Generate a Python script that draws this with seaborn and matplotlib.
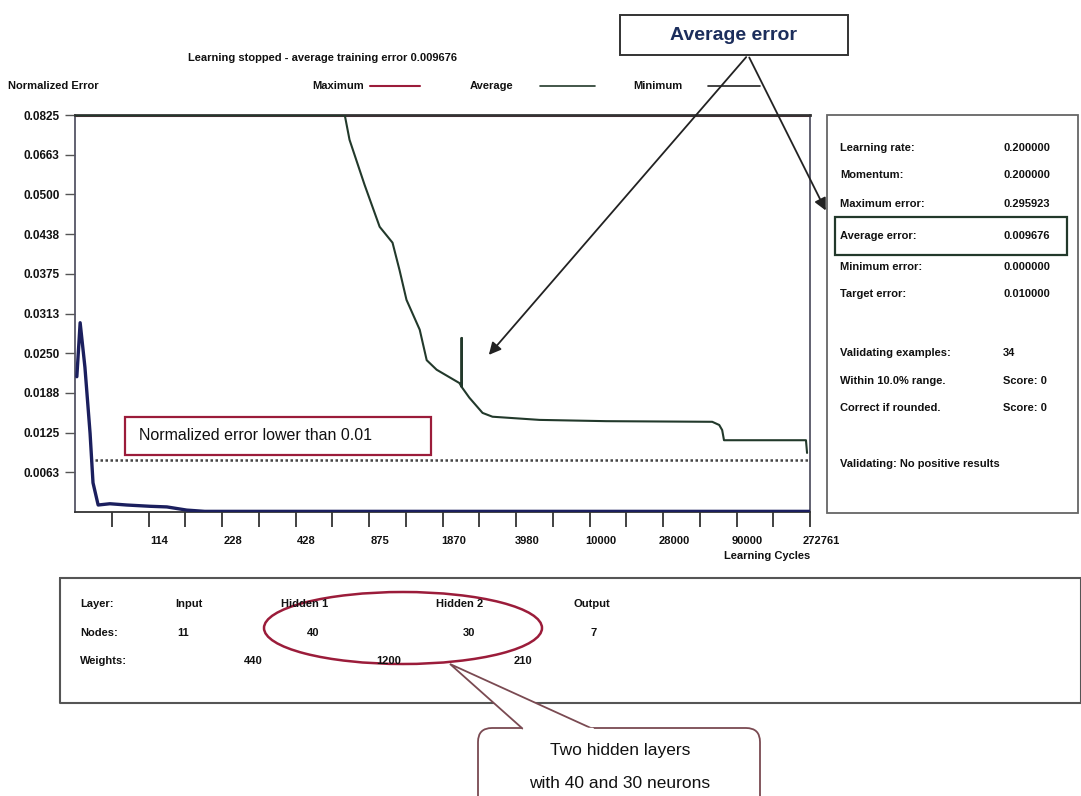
import numpy as np
import pandas as pd
import matplotlib
matplotlib.use('Agg')
import matplotlib.pyplot as plt
from matplotlib.patches import Rectangle, Ellipse, FancyBboxPatch, Polygon
import seaborn as sns

sns.set_theme(style='white')
plt.rcParams['font.family'] = ['Liberation Sans', 'DejaVu Sans']

# --- data ---
# x positions are tick-slot units (20 slots, non-linear cycle scale)
avg_x = [0, 7.2, 7.34, 7.47, 7.88, 8.29, 8.64, 8.83, 9.02, 9.38, 9.57, 9.84, 10.46,
         10.52, 10.52, 10.52, 10.73, 11.09, 11.36, 12.64, 14.46, 17.34, 17.53, 17.61,
         17.66, 19.89, 19.92]
avg_y = [0.0625, 0.0625, 0.0625, 0.0586, 0.0515, 0.0449, 0.0424, 0.0381, 0.0334,
         0.0287, 0.0239, 0.0224, 0.0203, 0.0197, 0.0274, 0.0197, 0.0180, 0.0156,
         0.0150, 0.0145, 0.0143, 0.0142, 0.0137, 0.0129, 0.0113, 0.0113, 0.0093]

min_x = [0.05, 0.14, 0.27, 0.41, 0.49, 0.63, 0.95, 1.41, 2.04, 2.5, 3.04, 3.53, 20]
min_y = [0.0213, 0.0298, 0.0228, 0.0124, 0.0046, 0.0011, 0.0013, 0.0011, 0.0009,
         0.0008, 0.0003, 0.0001, 0.0001]

max_x = [0, 20]
max_y = [0.0625, 0.0625]   # drawn clamped at the top of the chart

threshold = 0.0082

y_ticks = [0.00625 * k for k in range(1, 11)]
y_labels = ['0.0063', '0.0125', '0.0188', '0.0250', '0.0313', '0.0375',
            '0.0438', '0.0500', '0.0663', '0.0825']
x_tick_pos = list(range(1, 21))
x_label_pos = [2, 4, 6, 8, 10, 12, 14, 16, 18, 20]
x_labels = ['114', '228', '428', '875', '1870', '3980', '10000', '28000', '90000', '272761']

stats_names = ['Learning rate:', 'Momentum:', 'Maximum error:', 'Average error:',
               'Minimum error:', 'Target error:']
stats_values = ['0.200000', '0.200000', '0.295923', '0.009676', '0.000000', '0.010000']
valid_names = ['Validating examples:', 'Within 10.0% range.', 'Correct if rounded.']
valid_values = ['34', 'Score: 0', 'Score: 0']

layer_names = ['Input', 'Hidden 1', 'Hidden 2', 'Output']
layer_nodes = ['11', '40', '30', '7']
layer_weights = ['440', '1200', '210']

C_MAX = '#9b1c3a'
C_AVG = '#22392b'
C_MIN = '#1b1f5e'
C_TXT = '#111111'

W, H = 1081, 796
fig = plt.figure(figsize=(W / 100, H / 100), dpi=100)
fig.patch.set_facecolor('white')

# main chart
L, R, T, B = 75, 810, 115, 512
ax = fig.add_axes([L / W, 1 - B / H, (R - L) / W, (B - T) / H])

df_max = pd.DataFrame({'x': max_x, 'y': max_y})
df_avg = pd.DataFrame({'x': avg_x, 'y': avg_y})
df_min = pd.DataFrame({'x': min_x, 'y': min_y})

sns.lineplot(data=df_max, x='x', y='y', ax=ax, color=C_MAX, lw=2.2, estimator=None, sort=False, zorder=2)
sns.lineplot(data=df_avg, x='x', y='y', ax=ax, color=C_AVG, lw=1.5, estimator=None, sort=False, zorder=3)
sns.lineplot(data=df_min, x='x', y='y', ax=ax, color=C_MIN, lw=2.4, estimator=None, sort=False, zorder=4)
ax.axhline(threshold, xmin=0.02, color='#444444', lw=1.8, ls=(0, (1, 1)), zorder=1)

ax.set_xlim(0, 20)
ax.set_ylim(0, 0.0625)
ax.set_xlabel('')
ax.set_ylabel('')
ax.set_yticks(y_ticks)
ax.set_yticklabels(y_labels, fontsize=8.5, fontweight='bold', color=C_TXT)
ax.set_xticks(x_tick_pos)
ax.set_xticklabels([''] * len(x_tick_pos))
ax.tick_params(axis='y', direction='out', length=7, width=1, color='#555555', pad=4, left=True)
ax.tick_params(axis='x', direction='out', length=11, width=1.3, color='#333333', bottom=True)
for p, lab in zip(x_label_pos, x_labels):
    ax.text(p + 0.3, -0.0038, lab, ha='center', va='top', fontsize=8,
            fontweight='bold', color=C_TXT)
ax.text(20, -0.0062, 'Learning Cycles', ha='right', va='top', fontsize=8,
        fontweight='bold', color=C_TXT)
for s in ax.spines.values():
    s.set_visible(True)
    s.set_color('#555566')
    s.set_linewidth(1.3)
ax.spines['top'].set_color('#333333')
ax.spines['top'].set_linewidth(2)
ax.spines['bottom'].set_color('#333333')

# overlay in pixel coordinates for panels and annotations
ov = fig.add_axes([0, 0, 1, 1], zorder=5)
ov.set_xlim(0, W)
ov.set_ylim(H, 0)
ov.axis('off')
ov.patch.set_alpha(0)

# header
ov.text(188, 58, 'Learning stopped - average training error 0.009676', fontsize=8,
        fontweight='bold', va='center', color=C_TXT)
ov.text(8, 86, 'Normalized Error', fontsize=8, fontweight='bold', va='center', color=C_TXT)
ov.text(312, 86, 'Maximum', fontsize=8, fontweight='bold', va='center', color=C_TXT)
ov.plot([370, 420], [86, 86], color=C_MAX, lw=1.5)
ov.text(470, 86, 'Average', fontsize=8, fontweight='bold', va='center', color=C_TXT)
ov.plot([540, 595], [86, 86], color=C_AVG, lw=1.2)
ov.text(633, 86, 'Minimum', fontsize=8, fontweight='bold', va='center', color=C_TXT)
ov.plot([708, 760], [86, 86], color='#222222', lw=1.2)

# threshold note
ov.add_patch(Rectangle((125, 417), 306, 38, fill=False, ec=C_MAX, lw=1.6))
ov.text(139, 436, 'Normalized error lower than 0.01', fontsize=11.5, va='center', color=C_TXT)

# right stats panel
ov.add_patch(Rectangle((827, 115), 251, 398, fill=False, ec='#666666', lw=1.3))
stat_rows = [148, 175, 204, 236, 267, 294]
for yy, n, v in zip(stat_rows, stats_names, stats_values):
    ov.text(840, yy, n, fontsize=8, fontweight='bold', va='center', color=C_TXT)
    ov.text(1003, yy, v, fontsize=8, fontweight='bold', va='center', color=C_TXT)
ov.add_patch(Rectangle((835, 217), 232, 38, fill=False, ec=C_AVG, lw=1.6))
for yy, n, v in zip([353, 381, 408], valid_names, valid_values):
    ov.text(840, yy, n, fontsize=8, fontweight='bold', va='center', color=C_TXT)
    ov.text(1003, yy, v, fontsize=8, fontweight='bold', va='center', color=C_TXT)
ov.text(840, 464, 'Validating: No positive results', fontsize=8, fontweight='bold',
        va='center', color=C_TXT)

# "Average error" callout with arrows
ov.add_patch(Rectangle((620, 15), 228, 40, fc='white', ec='#333333', lw=1.4))
ov.text(734, 35, 'Average error', fontsize=14, fontweight='bold', ha='center',
        va='center', color='#1c2e5c')
ov.annotate('', xy=(487, 357), xytext=(748, 55),
            arrowprops=dict(arrowstyle='-|>', color='#222222', lw=1.3, mutation_scale=18))
ov.annotate('', xy=(827, 213), xytext=(748, 55),
            arrowprops=dict(arrowstyle='-|>', color='#222222', lw=1.3, mutation_scale=18))

# bottom network panel
ov.plot([60, W, W, 60, 60], [578, 578, 703, 703, 578], color='#555555', lw=1.5)
ov.text(80, 604, 'Layer:', fontsize=8, fontweight='bold', va='center', color=C_TXT)
ov.text(80, 633, 'Nodes:', fontsize=8, fontweight='bold', va='center', color=C_TXT)
ov.text(80, 661, 'Weights:', fontsize=8, fontweight='bold', va='center', color=C_TXT)
for xx, n in zip([189, 305, 460, 592], layer_names):
    ov.text(xx, 604, n, fontsize=8, fontweight='bold', ha='center', va='center', color=C_TXT)
for xx, n in zip([183, 313, 469, 594], layer_nodes):
    ov.text(xx, 633, n, fontsize=8, fontweight='bold', ha='center', va='center', color=C_TXT)
for xx, n in zip([253, 389, 523], layer_weights):
    ov.text(xx, 661, n, fontsize=8, fontweight='bold', ha='center', va='center', color=C_TXT)
ov.add_patch(Ellipse((403, 628), 278, 72, fill=False, ec=C_MAX, lw=1.8))

# speech bubble
ov.add_patch(FancyBboxPatch((478, 728), 282, 90, boxstyle='round,pad=0,rounding_size=14',
                            fc='white', ec='#7a4a52', lw=1.3, zorder=6))
ov.add_patch(Polygon([(523, 729), (450, 664), (593, 729)], closed=False, fc='white',
                     ec='#7a4a52', lw=1.3, zorder=7))
ov.plot([524, 592], [729, 729], color='white', lw=2.5, zorder=8)
ov.text(620, 751, 'Two hidden layers', fontsize=12.5, ha='center', va='center',
        color=C_TXT, zorder=9)
ov.text(620, 783, 'with 40 and 30 neurons', fontsize=12.5, ha='center', va='center',
        color=C_TXT, zorder=9)

fig.savefig('out.png', dpi=100, facecolor='white')
